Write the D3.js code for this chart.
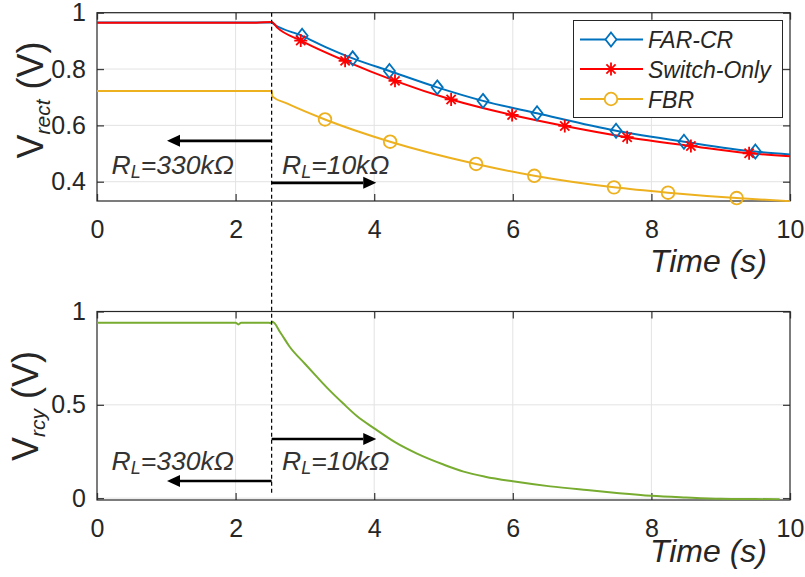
<!DOCTYPE html>
<html><head><meta charset="utf-8">
<script src="https://cdn.jsdelivr.net/npm/d3@7"></script>
<style>body{margin:0;background:#fff}svg{display:block;font-family:"Liberation Sans",Arial,sans-serif}</style>
</head><body><svg id="c" width="805" height="577"></svg>
<script>
// ---------- data ----------
const xTicks = [0, 2, 4, 6, 8, 10];
const xTickLabels = ["0", "2", "4", "6", "8", "10"];
const topYTicks = [0.4, 0.6, 0.8, 1];
const topYTickLabels = ["0.4", "0.6", "0.8", "1"];
const botYTicks = [0, 0.5, 1];
const botYTickLabels = ["0", "0.5", "1"];
const seriesNames = ["FAR-CR", "Switch-Only", "FBR"];

// FAR-CR line (time s, V)
const farcrT = [0, 2.52, 2.56, 2.96, 3.3, 3.69, 4.22, 4.91, 5.57, 6.35, 7.49, 8.47, 9.5, 10];
const farcrV = [0.965, 0.965, 0.958, 0.918, 0.878, 0.838, 0.793, 0.735, 0.687, 0.643, 0.581, 0.542, 0.507, 0.497];
const farcrMarkT = [2.96, 3.69, 4.22, 4.91, 5.57, 6.35, 7.49, 8.47, 9.5];
const farcrMarkV = [0.918, 0.838, 0.793, 0.735, 0.687, 0.643, 0.581, 0.542, 0.507];

// Switch-Only
const switchT = [0, 2.3, 2.52, 2.6, 2.94, 3.58, 4.30, 5.11, 5.99, 6.75, 7.65, 8.57, 9.41, 10];
const switchV = [0.9645, 0.9645, 0.967, 0.947, 0.901, 0.829, 0.758, 0.692, 0.637, 0.598, 0.558, 0.527, 0.501, 0.490];
const switchMarkT = [2.94, 3.58, 4.30, 5.11, 5.99, 6.75, 7.65, 8.57, 9.41];
const switchMarkV = [0.901, 0.829, 0.758, 0.692, 0.637, 0.598, 0.558, 0.527, 0.501];

// FBR
const fbrT = [0, 2.52, 2.53, 2.74, 3.29, 4.23, 5.47, 6.31, 7.46, 8.24, 9.23, 10];
const fbrV = [0.722, 0.722, 0.703, 0.678, 0.621, 0.542, 0.463, 0.421, 0.380, 0.361, 0.342, 0.331];
const fbrMarkT = [3.29, 4.23, 5.47, 6.31, 7.46, 8.24, 9.23];
const fbrMarkV = [0.621, 0.542, 0.463, 0.421, 0.380, 0.361, 0.342];

// V_rcy
const rcyT = [0, 1, 2.0, 2.04, 2.08, 2.48, 2.5, 2.53, 2.65, 2.78, 3.0, 3.17, 3.35, 3.55, 3.75, 4.0, 4.3, 4.61, 5.0, 5.29, 5.6, 6.0, 6.54, 7.07, 7.5, 8.0, 8.5, 9.0, 9.5, 9.85];
const rcyV = [0.94, 0.94, 0.94, 0.931, 0.94, 0.94, 0.937, 0.945, 0.885, 0.811, 0.72, 0.651, 0.58, 0.508, 0.44, 0.374, 0.30, 0.24, 0.18, 0.142, 0.115, 0.09, 0.063, 0.043, 0.028, 0.013, 0.004, -0.003, -0.005, -0.006];

const switchTime = 2.52;
const loadLabels = ["330kΩ", "10kΩ"];

// ---------- layout ----------
const svg = d3.select("#c");
const X0 = 97, X1 = 790;
const x = d3.scaleLinear().domain([0, 10]).range([X0, X1]);
const yTop = d3.scaleLinear().domain([0.3315, 1]).range([201, 12.7]);
const yBot = d3.scaleLinear().domain([-0.01, 1]).range([500, 311.5]);
const txt = "#262626";
const colors = {farcr: "#0072BD", sw: "#FF0000", fbr: "#EDB120", rcy: "#77AC30"};

function drawFrame(y, yTicks, yLabels) {
  const g = svg.append("g");
  const [yb, yt] = y.range();
  g.selectAll(".gx").data(xTicks.filter(d => d > 0 && d < 10)).enter().append("line")
    .attr("x1", d => x(d)).attr("x2", d => x(d)).attr("y1", yt).attr("y2", yb)
    .attr("stroke", "#e3e3e3").attr("stroke-width", 1);
  g.selectAll(".gy").data(yTicks).enter().append("line")
    .attr("x1", X0).attr("x2", X1).attr("y1", d => y(d)).attr("y2", d => y(d))
    .attr("stroke", "#e3e3e3").attr("stroke-width", 1);
  const ax = g.append("g").attr("transform", `translate(0,${yb})`)
    .call(d3.axisBottom(x).tickValues(xTicks).tickFormat((d, i) => xTickLabels[i]).tickSizeInner(-7).tickSizeOuter(0).tickPadding(19));
  const axT = g.append("g").attr("transform", `translate(0,${yt})`)
    .call(d3.axisTop(x).tickValues(xTicks).tickFormat("").tickSizeInner(-7).tickSizeOuter(0));
  const ay = g.append("g").attr("transform", `translate(${X0},0)`)
    .call(d3.axisLeft(y).tickValues(yTicks).tickFormat((d, i) => yLabels[i]).tickSizeInner(-7).tickSizeOuter(0).tickPadding(11));
  const ayR = g.append("g").attr("transform", `translate(${X1},0)`)
    .call(d3.axisRight(y).tickValues(yTicks).tickFormat("").tickSizeInner(-7).tickSizeOuter(0));
  [ax, axT, ay, ayR].forEach(a => {
    a.select(".domain").remove();
    a.selectAll("line").attr("stroke", "#404040").attr("stroke-width", 1.3);
    a.selectAll("text").attr("fill", txt).attr("font-size", 25).attr("font-family", "Liberation Sans, Arial, sans-serif");
  });
  g.append("rect").attr("x", X0).attr("y", yt).attr("width", X1 - X0).attr("height", yb - yt)
    .attr("fill", "none").attr("stroke", "#262626").attr("stroke-width", 1.2);
  return g;
}

drawFrame(yTop, topYTicks, topYTickLabels);
drawFrame(yBot, botYTicks, botYTickLabels);

const defs = svg.append("defs");
defs.append("clipPath").attr("id", "clipTop").append("rect")
  .attr("x", X0).attr("y", yTop.range()[1]).attr("width", X1 - X0).attr("height", yTop.range()[0] - yTop.range()[1] + 1);
defs.append("clipPath").attr("id", "clipBot").append("rect")
  .attr("x", X0).attr("y", yBot.range()[1]).attr("width", X1 - X0).attr("height", yBot.range()[0] - yBot.range()[1]);

const lineTop = d3.line().x(d => x(d[0])).y(d => yTop(d[1])).curve(d3.curveMonotoneX);
const lineBot = d3.line().x(d => x(d[0])).y(d => yBot(d[1])).curve(d3.curveMonotoneX);
const zip = (a, b) => a.map((v, i) => [v, b[i]]);

const gTop = svg.append("g").attr("clip-path", "url(#clipTop)");
gTop.append("path").datum(zip(fbrT, fbrV)).attr("d", lineTop).attr("fill", "none").attr("stroke", colors.fbr).attr("stroke-width", 2);
gTop.append("path").datum(zip(farcrT, farcrV)).attr("d", lineTop).attr("fill", "none").attr("stroke", colors.farcr).attr("stroke-width", 2);
gTop.append("path").datum(zip(switchT, switchV)).attr("d", lineTop).attr("fill", "none").attr("stroke", colors.sw).attr("stroke-width", 2);

const diamondPath = "M0,-7L5.5,0L0,7L-5.5,0Z";
const s = 6.5, s2 = 4.6;
const starPath = `M${-s},0L${s},0M0,${-s}L0,${s}M${-s2},${-s2}L${s2},${s2}M${-s2},${s2}L${s2},${-s2}`;

const gMarks = svg.append("g");
gMarks.selectAll(".fbrm").data(zip(fbrMarkT, fbrMarkV)).enter().append("circle")
  .attr("cx", d => x(d[0])).attr("cy", d => yTop(d[1])).attr("r", 6.3)
  .attr("fill", "none").attr("stroke", colors.fbr).attr("stroke-width", 1.8);
gMarks.selectAll(".farm").data(zip(farcrMarkT, farcrMarkV)).enter().append("path")
  .attr("transform", d => `translate(${x(d[0])},${yTop(d[1])})`).attr("d", diamondPath)
  .attr("fill", "none").attr("stroke", colors.farcr).attr("stroke-width", 1.8);
gMarks.selectAll(".swm").data(zip(switchMarkT, switchMarkV)).enter().append("path")
  .attr("transform", d => `translate(${x(d[0])},${yTop(d[1])})`).attr("d", starPath)
  .attr("fill", "none").attr("stroke", colors.sw).attr("stroke-width", 1.8);

const gBot = svg.append("g").attr("clip-path", "url(#clipBot)");
gBot.append("path").datum(zip(rcyT, rcyV)).attr("d", lineBot).attr("fill", "none").attr("stroke", colors.rcy).attr("stroke-width", 2);

svg.append("line").attr("x1", x(switchTime)).attr("x2", x(switchTime))
  .attr("y1", yTop(1)).attr("y2", yBot(0.025))
  .attr("stroke", "#000").attr("stroke-width", 1.2).attr("stroke-dasharray", "4,3");

function arrow(xFrom, xTo, yPix) {
  const a = x(xFrom), b = x(xTo);
  const dir = Math.sign(b - a);
  const headL = 13, headW = 6;
  svg.append("line").attr("x1", a).attr("x2", b - dir * headL).attr("y1", yPix).attr("y2", yPix)
    .attr("stroke", "#000").attr("stroke-width", 2.6);
  svg.append("path").attr("d", `M${b},${yPix}L${b - dir * headL},${yPix - headW}L${b - dir * headL},${yPix + headW}Z`).attr("fill", "#000");
}
arrow(switchTime, 1.01, yTop(0.545));
arrow(switchTime, 4.03, yTop(0.396));
arrow(switchTime, 4.03, yBot(0.317));
arrow(switchTime, 1.01, yBot(0.092));

function rlText(xv, yPix, val) {
  const t = svg.append("text").attr("x", x(xv)).attr("y", yPix).attr("fill", "#333")
    .attr("font-style", "italic").attr("font-size", 26.5);
  t.append("tspan").text("R");
  t.append("tspan").attr("font-size", 18).attr("dy", 4).text("L");
  t.append("tspan").attr("dy", -4).text("=" + val);
}
rlText(0.21, yTop(0.427), loadLabels[0]);
rlText(2.67, yTop(0.427), loadLabels[1]);
rlText(0.21, yBot(0.151), loadLabels[0]);
rlText(2.67, yBot(0.151), loadLabels[1]);

[272, 562].forEach(yb => {
  svg.append("text").attr("x", 767).attr("y", yb).attr("text-anchor", "end")
    .attr("font-style", "italic").attr("font-size", 32).attr("fill", txt).text("Time (s)");
});
function yTitle(cx, cy, sub) {
  const t = svg.append("text").attr("transform", `translate(${cx},${cy}) rotate(-90)`)
    .attr("text-anchor", "middle").attr("fill", txt).attr("font-size", 36);
  t.append("tspan").text("V");
  t.append("tspan").attr("font-size", 21).attr("font-style", "italic").attr("dy", 7).text(sub);
  t.append("tspan").attr("dy", -7).text(" (V)");
}
yTitle(43, 100, "rect");
yTitle(38, 406, "rcy");

const lg = svg.append("g");
lg.append("rect").attr("x", 573.5).attr("y", 20.5).attr("width", 209).attr("height", 97)
  .attr("fill", "#fff").attr("stroke", "#262626").attr("stroke-width", 1);
const legY = [39.5, 69, 99];
const legColors = [colors.farcr, colors.sw, colors.fbr];
seriesNames.forEach((nm, i) => {
  lg.append("line").attr("x1", 580).attr("x2", 643).attr("y1", legY[i]).attr("y2", legY[i])
    .attr("stroke", legColors[i]).attr("stroke-width", 2);
  if (i === 0) lg.append("path").attr("transform", `translate(611,${legY[i]})`).attr("d", diamondPath).attr("fill", "#fff").attr("stroke", legColors[i]).attr("stroke-width", 1.8);
  if (i === 1) lg.append("path").attr("transform", `translate(611,${legY[i]})`).attr("d", starPath).attr("fill", "none").attr("stroke", legColors[i]).attr("stroke-width", 1.8);
  if (i === 2) lg.append("circle").attr("cx", 611).attr("cy", legY[i]).attr("r", 6.3).attr("fill", "#fff").attr("stroke", legColors[i]).attr("stroke-width", 1.8);
  lg.append("text").attr("x", 648).attr("y", legY[i] + 8.5).attr("font-style", "italic").attr("font-size", 23)
    .attr("fill", txt).text(nm);
});
</script></body></html>
